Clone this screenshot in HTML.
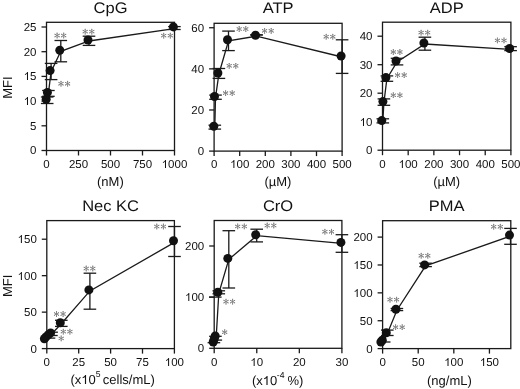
<!DOCTYPE html>
<html><head><meta charset="utf-8"><style>
html,body{margin:0;padding:0;background:#fff;}
body{width:520px;height:389px;overflow:hidden;}
svg{display:block;}
text{font-family:"Liberation Sans", sans-serif;fill:#111;text-rendering:geometricPrecision;}
svg{filter:grayscale(1);}
</style></head><body>
<svg width="520" height="389" viewBox="0 0 520 389">
<rect x="46.50" y="22.30" width="128.00" height="128.20" fill="none" stroke="#1a1a1a" stroke-width="1.3"/>
<line x1="41.50" y1="150.50" x2="46.50" y2="150.50" stroke="#1a1a1a" stroke-width="1.3"/>
<text x="36.50" y="154.40" font-size="11.5" text-anchor="end" >0</text>
<line x1="41.50" y1="125.80" x2="46.50" y2="125.80" stroke="#1a1a1a" stroke-width="1.3"/>
<text x="36.50" y="129.70" font-size="11.5" text-anchor="end" >5</text>
<line x1="41.50" y1="101.10" x2="46.50" y2="101.10" stroke="#1a1a1a" stroke-width="1.3"/>
<text x="23.71" y="105.00" font-size="11.5" > 0</text>
<path transform="translate(23.708,105.000) scale(0.005615,-0.005615)" d="M763 0L583 0L583 1098Q518 1039 412 980Q306 920 222 890L222 1057Q373 1125 486 1221Q599 1318 646 1409L763 1409Z" fill="#111"/>
<line x1="41.50" y1="76.40" x2="46.50" y2="76.40" stroke="#1a1a1a" stroke-width="1.3"/>
<text x="23.71" y="80.00" font-size="11.5" > 5</text>
<path transform="translate(23.708,80.000) scale(0.005615,-0.005615)" d="M763 0L583 0L583 1098Q518 1039 412 980Q306 920 222 890L222 1057Q373 1125 486 1221Q599 1318 646 1409L763 1409Z" fill="#111"/>
<line x1="41.50" y1="51.70" x2="46.50" y2="51.70" stroke="#1a1a1a" stroke-width="1.3"/>
<text x="36.50" y="55.60" font-size="11.5" text-anchor="end" >20</text>
<line x1="41.50" y1="27.00" x2="46.50" y2="27.00" stroke="#1a1a1a" stroke-width="1.3"/>
<text x="36.50" y="30.90" font-size="11.5" text-anchor="end" >25</text>
<line x1="46.50" y1="150.50" x2="46.50" y2="155.50" stroke="#1a1a1a" stroke-width="1.3"/>
<text x="46.50" y="167.80" font-size="11.5" text-anchor="middle" >0</text>
<line x1="78.50" y1="150.50" x2="78.50" y2="155.50" stroke="#1a1a1a" stroke-width="1.3"/>
<text x="78.50" y="167.80" font-size="11.5" text-anchor="middle" >250</text>
<line x1="110.50" y1="150.50" x2="110.50" y2="155.50" stroke="#1a1a1a" stroke-width="1.3"/>
<text x="110.50" y="167.80" font-size="11.5" text-anchor="middle" >500</text>
<line x1="142.50" y1="150.50" x2="142.50" y2="155.50" stroke="#1a1a1a" stroke-width="1.3"/>
<text x="142.50" y="167.80" font-size="11.5" text-anchor="middle" >750</text>
<line x1="174.50" y1="150.50" x2="174.50" y2="155.50" stroke="#1a1a1a" stroke-width="1.3"/>
<text x="161.71" y="168.00" font-size="11.5" > 000</text>
<path transform="translate(161.708,168.000) scale(0.005615,-0.005615)" d="M763 0L583 0L583 1098Q518 1039 412 980Q306 920 222 890L222 1057Q373 1125 486 1221Q599 1318 646 1409L763 1409Z" fill="#111"/>
<text transform="translate(110.50,13.00) scale(1.078,1)" font-size="15.3" text-anchor="middle">CpG</text>
<text x="110.4" y="186.2" font-size="13" text-anchor="middle">(nM)</text>
<line x1="174.40" y1="26.60" x2="174.40" y2="29.50" stroke="#1a1a1a" stroke-width="1.3"/>
<line x1="168.10" y1="26.60" x2="180.70" y2="26.60" stroke="#1a1a1a" stroke-width="1.3"/>
<line x1="168.10" y1="29.50" x2="180.70" y2="29.50" stroke="#1a1a1a" stroke-width="1.3"/>
<line x1="89.00" y1="36.20" x2="89.00" y2="45.40" stroke="#1a1a1a" stroke-width="1.3"/>
<line x1="82.70" y1="36.20" x2="95.30" y2="36.20" stroke="#1a1a1a" stroke-width="1.3"/>
<line x1="82.70" y1="45.40" x2="95.30" y2="45.40" stroke="#1a1a1a" stroke-width="1.3"/>
<line x1="60.80" y1="40.50" x2="60.80" y2="61.80" stroke="#1a1a1a" stroke-width="1.3"/>
<line x1="54.50" y1="40.50" x2="67.10" y2="40.50" stroke="#1a1a1a" stroke-width="1.3"/>
<line x1="54.50" y1="61.80" x2="67.10" y2="61.80" stroke="#1a1a1a" stroke-width="1.3"/>
<line x1="51.10" y1="63.40" x2="51.10" y2="79.60" stroke="#1a1a1a" stroke-width="1.3"/>
<line x1="44.80" y1="63.40" x2="57.40" y2="63.40" stroke="#1a1a1a" stroke-width="1.3"/>
<line x1="44.80" y1="79.60" x2="57.40" y2="79.60" stroke="#1a1a1a" stroke-width="1.3"/>
<line x1="48.40" y1="90.50" x2="48.40" y2="96.30" stroke="#1a1a1a" stroke-width="1.3"/>
<line x1="42.10" y1="90.50" x2="54.70" y2="90.50" stroke="#1a1a1a" stroke-width="1.3"/>
<line x1="42.10" y1="96.30" x2="54.70" y2="96.30" stroke="#1a1a1a" stroke-width="1.3"/>
<line x1="47.20" y1="97.00" x2="47.20" y2="103.50" stroke="#1a1a1a" stroke-width="1.3"/>
<line x1="40.90" y1="97.00" x2="53.50" y2="97.00" stroke="#1a1a1a" stroke-width="1.3"/>
<line x1="40.90" y1="103.50" x2="53.50" y2="103.50" stroke="#1a1a1a" stroke-width="1.3"/>
<polyline points="174.40,28.60 89.00,41.00 60.80,51.30 51.10,71.60 48.40,93.40 47.20,100.30" fill="none" stroke="#1a1a1a" stroke-width="1.3"/>
<circle cx="173.40" cy="26.90" r="4.5" fill="#111"/>
<circle cx="88.00" cy="40.00" r="4.5" fill="#111"/>
<circle cx="59.80" cy="50.30" r="4.5" fill="#111"/>
<circle cx="50.10" cy="70.60" r="4.5" fill="#111"/>
<circle cx="47.40" cy="92.40" r="4.5" fill="#111"/>
<circle cx="46.20" cy="99.30" r="4.5" fill="#111"/>
<path d="M163.70 33.25L163.70 37.95M161.66 34.43L165.74 36.77M165.74 34.43L161.66 36.77" stroke="#7d7d7d" stroke-width="0.9" stroke-linecap="round" fill="none"/>
<circle cx="163.70" cy="33.25" r="0.55" fill="#7d7d7d"/>
<circle cx="163.70" cy="37.95" r="0.55" fill="#7d7d7d"/>
<circle cx="161.66" cy="34.43" r="0.55" fill="#7d7d7d"/>
<circle cx="165.74" cy="36.77" r="0.55" fill="#7d7d7d"/>
<circle cx="165.74" cy="34.43" r="0.55" fill="#7d7d7d"/>
<circle cx="161.66" cy="36.77" r="0.55" fill="#7d7d7d"/>
<path d="M170.30 33.25L170.30 37.95M168.26 34.43L172.34 36.77M172.34 34.43L168.26 36.77" stroke="#7d7d7d" stroke-width="0.9" stroke-linecap="round" fill="none"/>
<circle cx="170.30" cy="33.25" r="0.55" fill="#7d7d7d"/>
<circle cx="170.30" cy="37.95" r="0.55" fill="#7d7d7d"/>
<circle cx="168.26" cy="34.43" r="0.55" fill="#7d7d7d"/>
<circle cx="172.34" cy="36.77" r="0.55" fill="#7d7d7d"/>
<circle cx="172.34" cy="34.43" r="0.55" fill="#7d7d7d"/>
<circle cx="168.26" cy="36.77" r="0.55" fill="#7d7d7d"/>
<path d="M85.20 29.25L85.20 33.95M83.16 30.43L87.24 32.77M87.24 30.43L83.16 32.77" stroke="#7d7d7d" stroke-width="0.9" stroke-linecap="round" fill="none"/>
<circle cx="85.20" cy="29.25" r="0.55" fill="#7d7d7d"/>
<circle cx="85.20" cy="33.95" r="0.55" fill="#7d7d7d"/>
<circle cx="83.16" cy="30.43" r="0.55" fill="#7d7d7d"/>
<circle cx="87.24" cy="32.77" r="0.55" fill="#7d7d7d"/>
<circle cx="87.24" cy="30.43" r="0.55" fill="#7d7d7d"/>
<circle cx="83.16" cy="32.77" r="0.55" fill="#7d7d7d"/>
<path d="M91.80 29.25L91.80 33.95M89.76 30.43L93.84 32.77M93.84 30.43L89.76 32.77" stroke="#7d7d7d" stroke-width="0.9" stroke-linecap="round" fill="none"/>
<circle cx="91.80" cy="29.25" r="0.55" fill="#7d7d7d"/>
<circle cx="91.80" cy="33.95" r="0.55" fill="#7d7d7d"/>
<circle cx="89.76" cy="30.43" r="0.55" fill="#7d7d7d"/>
<circle cx="93.84" cy="32.77" r="0.55" fill="#7d7d7d"/>
<circle cx="93.84" cy="30.43" r="0.55" fill="#7d7d7d"/>
<circle cx="89.76" cy="32.77" r="0.55" fill="#7d7d7d"/>
<path d="M57.10 33.15L57.10 37.85M55.06 34.33L59.14 36.67M59.14 34.33L55.06 36.67" stroke="#7d7d7d" stroke-width="0.9" stroke-linecap="round" fill="none"/>
<circle cx="57.10" cy="33.15" r="0.55" fill="#7d7d7d"/>
<circle cx="57.10" cy="37.85" r="0.55" fill="#7d7d7d"/>
<circle cx="55.06" cy="34.33" r="0.55" fill="#7d7d7d"/>
<circle cx="59.14" cy="36.67" r="0.55" fill="#7d7d7d"/>
<circle cx="59.14" cy="34.33" r="0.55" fill="#7d7d7d"/>
<circle cx="55.06" cy="36.67" r="0.55" fill="#7d7d7d"/>
<path d="M63.70 33.15L63.70 37.85M61.66 34.33L65.74 36.67M65.74 34.33L61.66 36.67" stroke="#7d7d7d" stroke-width="0.9" stroke-linecap="round" fill="none"/>
<circle cx="63.70" cy="33.15" r="0.55" fill="#7d7d7d"/>
<circle cx="63.70" cy="37.85" r="0.55" fill="#7d7d7d"/>
<circle cx="61.66" cy="34.33" r="0.55" fill="#7d7d7d"/>
<circle cx="65.74" cy="36.67" r="0.55" fill="#7d7d7d"/>
<circle cx="65.74" cy="34.33" r="0.55" fill="#7d7d7d"/>
<circle cx="61.66" cy="36.67" r="0.55" fill="#7d7d7d"/>
<path d="M61.00 81.35L61.00 86.05M58.96 82.53L63.04 84.88M63.04 82.53L58.96 84.88" stroke="#7d7d7d" stroke-width="0.9" stroke-linecap="round" fill="none"/>
<circle cx="61.00" cy="81.35" r="0.55" fill="#7d7d7d"/>
<circle cx="61.00" cy="86.05" r="0.55" fill="#7d7d7d"/>
<circle cx="58.96" cy="82.53" r="0.55" fill="#7d7d7d"/>
<circle cx="63.04" cy="84.88" r="0.55" fill="#7d7d7d"/>
<circle cx="63.04" cy="82.53" r="0.55" fill="#7d7d7d"/>
<circle cx="58.96" cy="84.88" r="0.55" fill="#7d7d7d"/>
<path d="M67.60 81.35L67.60 86.05M65.56 82.53L69.64 84.88M69.64 82.53L65.56 84.88" stroke="#7d7d7d" stroke-width="0.9" stroke-linecap="round" fill="none"/>
<circle cx="67.60" cy="81.35" r="0.55" fill="#7d7d7d"/>
<circle cx="67.60" cy="86.05" r="0.55" fill="#7d7d7d"/>
<circle cx="65.56" cy="82.53" r="0.55" fill="#7d7d7d"/>
<circle cx="69.64" cy="84.88" r="0.55" fill="#7d7d7d"/>
<circle cx="69.64" cy="82.53" r="0.55" fill="#7d7d7d"/>
<circle cx="65.56" cy="84.88" r="0.55" fill="#7d7d7d"/>
<rect x="214.10" y="23.30" width="128.00" height="127.80" fill="none" stroke="#1a1a1a" stroke-width="1.3"/>
<line x1="209.10" y1="151.10" x2="214.10" y2="151.10" stroke="#1a1a1a" stroke-width="1.3"/>
<text x="204.10" y="155.00" font-size="11.5" text-anchor="end" >0</text>
<line x1="209.10" y1="109.98" x2="214.10" y2="109.98" stroke="#1a1a1a" stroke-width="1.3"/>
<text x="204.10" y="113.88" font-size="11.5" text-anchor="end" >20</text>
<line x1="209.10" y1="68.86" x2="214.10" y2="68.86" stroke="#1a1a1a" stroke-width="1.3"/>
<text x="204.10" y="72.76" font-size="11.5" text-anchor="end" >40</text>
<line x1="209.10" y1="27.74" x2="214.10" y2="27.74" stroke="#1a1a1a" stroke-width="1.3"/>
<text x="204.10" y="31.64" font-size="11.5" text-anchor="end" >60</text>
<line x1="214.10" y1="151.10" x2="214.10" y2="156.10" stroke="#1a1a1a" stroke-width="1.3"/>
<text x="214.10" y="168.40" font-size="11.5" text-anchor="middle" >0</text>
<line x1="239.70" y1="151.10" x2="239.70" y2="156.10" stroke="#1a1a1a" stroke-width="1.3"/>
<text x="230.11" y="168.00" font-size="11.5" > 00</text>
<path transform="translate(230.106,168.000) scale(0.005615,-0.005615)" d="M763 0L583 0L583 1098Q518 1039 412 980Q306 920 222 890L222 1057Q373 1125 486 1221Q599 1318 646 1409L763 1409Z" fill="#111"/>
<line x1="265.30" y1="151.10" x2="265.30" y2="156.10" stroke="#1a1a1a" stroke-width="1.3"/>
<text x="265.30" y="168.40" font-size="11.5" text-anchor="middle" >200</text>
<line x1="290.90" y1="151.10" x2="290.90" y2="156.10" stroke="#1a1a1a" stroke-width="1.3"/>
<text x="290.90" y="168.40" font-size="11.5" text-anchor="middle" >300</text>
<line x1="316.50" y1="151.10" x2="316.50" y2="156.10" stroke="#1a1a1a" stroke-width="1.3"/>
<text x="316.50" y="168.40" font-size="11.5" text-anchor="middle" >400</text>
<line x1="342.10" y1="151.10" x2="342.10" y2="156.10" stroke="#1a1a1a" stroke-width="1.3"/>
<text x="342.10" y="168.40" font-size="11.5" text-anchor="middle" >500</text>
<text transform="translate(278.10,13.00) scale(1.078,1)" font-size="15.3" text-anchor="middle">ATP</text>
<text x="277.9" y="186.3" font-size="13" text-anchor="middle">(µM)</text>
<line x1="342.10" y1="39.80" x2="342.10" y2="73.40" stroke="#1a1a1a" stroke-width="1.3"/>
<line x1="335.80" y1="39.80" x2="348.40" y2="39.80" stroke="#1a1a1a" stroke-width="1.3"/>
<line x1="335.80" y1="73.40" x2="348.40" y2="73.40" stroke="#1a1a1a" stroke-width="1.3"/>
<line x1="256.50" y1="34.90" x2="256.50" y2="34.90" stroke="#1a1a1a" stroke-width="1.3"/>
<line x1="250.20" y1="34.90" x2="262.80" y2="34.90" stroke="#1a1a1a" stroke-width="1.3"/>
<line x1="250.20" y1="34.90" x2="262.80" y2="34.90" stroke="#1a1a1a" stroke-width="1.3"/>
<line x1="228.50" y1="31.10" x2="228.50" y2="50.60" stroke="#1a1a1a" stroke-width="1.3"/>
<line x1="222.20" y1="31.10" x2="234.80" y2="31.10" stroke="#1a1a1a" stroke-width="1.3"/>
<line x1="222.20" y1="50.60" x2="234.80" y2="50.60" stroke="#1a1a1a" stroke-width="1.3"/>
<line x1="218.90" y1="68.50" x2="218.90" y2="78.40" stroke="#1a1a1a" stroke-width="1.3"/>
<line x1="212.60" y1="68.50" x2="225.20" y2="68.50" stroke="#1a1a1a" stroke-width="1.3"/>
<line x1="212.60" y1="78.40" x2="225.20" y2="78.40" stroke="#1a1a1a" stroke-width="1.3"/>
<line x1="215.50" y1="95.10" x2="215.50" y2="99.30" stroke="#1a1a1a" stroke-width="1.3"/>
<line x1="209.20" y1="95.10" x2="221.80" y2="95.10" stroke="#1a1a1a" stroke-width="1.3"/>
<line x1="209.20" y1="99.30" x2="221.80" y2="99.30" stroke="#1a1a1a" stroke-width="1.3"/>
<line x1="214.80" y1="125.20" x2="214.80" y2="129.10" stroke="#1a1a1a" stroke-width="1.3"/>
<line x1="208.50" y1="125.20" x2="221.10" y2="125.20" stroke="#1a1a1a" stroke-width="1.3"/>
<line x1="208.50" y1="129.10" x2="221.10" y2="129.10" stroke="#1a1a1a" stroke-width="1.3"/>
<polyline points="342.10,57.00 256.50,36.20 228.50,40.80 218.90,74.00 215.50,97.50 214.80,127.30" fill="none" stroke="#1a1a1a" stroke-width="1.3"/>
<circle cx="341.10" cy="56.00" r="4.5" fill="#111"/>
<circle cx="255.50" cy="35.20" r="4.5" fill="#111"/>
<circle cx="227.50" cy="39.80" r="4.5" fill="#111"/>
<circle cx="217.90" cy="73.00" r="4.5" fill="#111"/>
<circle cx="214.50" cy="96.50" r="4.5" fill="#111"/>
<circle cx="213.80" cy="126.30" r="4.5" fill="#111"/>
<path d="M326.20 34.35L326.20 39.05M324.16 35.53L328.24 37.88M328.24 35.53L324.16 37.88" stroke="#7d7d7d" stroke-width="0.9" stroke-linecap="round" fill="none"/>
<circle cx="326.20" cy="34.35" r="0.55" fill="#7d7d7d"/>
<circle cx="326.20" cy="39.05" r="0.55" fill="#7d7d7d"/>
<circle cx="324.16" cy="35.53" r="0.55" fill="#7d7d7d"/>
<circle cx="328.24" cy="37.88" r="0.55" fill="#7d7d7d"/>
<circle cx="328.24" cy="35.53" r="0.55" fill="#7d7d7d"/>
<circle cx="324.16" cy="37.88" r="0.55" fill="#7d7d7d"/>
<path d="M332.80 34.35L332.80 39.05M330.76 35.53L334.84 37.88M334.84 35.53L330.76 37.88" stroke="#7d7d7d" stroke-width="0.9" stroke-linecap="round" fill="none"/>
<circle cx="332.80" cy="34.35" r="0.55" fill="#7d7d7d"/>
<circle cx="332.80" cy="39.05" r="0.55" fill="#7d7d7d"/>
<circle cx="330.76" cy="35.53" r="0.55" fill="#7d7d7d"/>
<circle cx="334.84" cy="37.88" r="0.55" fill="#7d7d7d"/>
<circle cx="334.84" cy="35.53" r="0.55" fill="#7d7d7d"/>
<circle cx="330.76" cy="37.88" r="0.55" fill="#7d7d7d"/>
<path d="M264.60 28.45L264.60 33.15M262.56 29.62L266.64 31.98M266.64 29.62L262.56 31.98" stroke="#7d7d7d" stroke-width="0.9" stroke-linecap="round" fill="none"/>
<circle cx="264.60" cy="28.45" r="0.55" fill="#7d7d7d"/>
<circle cx="264.60" cy="33.15" r="0.55" fill="#7d7d7d"/>
<circle cx="262.56" cy="29.62" r="0.55" fill="#7d7d7d"/>
<circle cx="266.64" cy="31.98" r="0.55" fill="#7d7d7d"/>
<circle cx="266.64" cy="29.62" r="0.55" fill="#7d7d7d"/>
<circle cx="262.56" cy="31.98" r="0.55" fill="#7d7d7d"/>
<path d="M271.20 28.45L271.20 33.15M269.16 29.62L273.24 31.98M273.24 29.62L269.16 31.98" stroke="#7d7d7d" stroke-width="0.9" stroke-linecap="round" fill="none"/>
<circle cx="271.20" cy="28.45" r="0.55" fill="#7d7d7d"/>
<circle cx="271.20" cy="33.15" r="0.55" fill="#7d7d7d"/>
<circle cx="269.16" cy="29.62" r="0.55" fill="#7d7d7d"/>
<circle cx="273.24" cy="31.98" r="0.55" fill="#7d7d7d"/>
<circle cx="273.24" cy="29.62" r="0.55" fill="#7d7d7d"/>
<circle cx="269.16" cy="31.98" r="0.55" fill="#7d7d7d"/>
<path d="M239.20 26.65L239.20 31.35M237.16 27.82L241.24 30.18M241.24 27.82L237.16 30.18" stroke="#7d7d7d" stroke-width="0.9" stroke-linecap="round" fill="none"/>
<circle cx="239.20" cy="26.65" r="0.55" fill="#7d7d7d"/>
<circle cx="239.20" cy="31.35" r="0.55" fill="#7d7d7d"/>
<circle cx="237.16" cy="27.82" r="0.55" fill="#7d7d7d"/>
<circle cx="241.24" cy="30.18" r="0.55" fill="#7d7d7d"/>
<circle cx="241.24" cy="27.82" r="0.55" fill="#7d7d7d"/>
<circle cx="237.16" cy="30.18" r="0.55" fill="#7d7d7d"/>
<path d="M245.80 26.65L245.80 31.35M243.76 27.82L247.84 30.18M247.84 27.82L243.76 30.18" stroke="#7d7d7d" stroke-width="0.9" stroke-linecap="round" fill="none"/>
<circle cx="245.80" cy="26.65" r="0.55" fill="#7d7d7d"/>
<circle cx="245.80" cy="31.35" r="0.55" fill="#7d7d7d"/>
<circle cx="243.76" cy="27.82" r="0.55" fill="#7d7d7d"/>
<circle cx="247.84" cy="30.18" r="0.55" fill="#7d7d7d"/>
<circle cx="247.84" cy="27.82" r="0.55" fill="#7d7d7d"/>
<circle cx="243.76" cy="30.18" r="0.55" fill="#7d7d7d"/>
<path d="M229.20 63.45L229.20 68.15M227.16 64.62L231.24 66.97M231.24 64.62L227.16 66.97" stroke="#7d7d7d" stroke-width="0.9" stroke-linecap="round" fill="none"/>
<circle cx="229.20" cy="63.45" r="0.55" fill="#7d7d7d"/>
<circle cx="229.20" cy="68.15" r="0.55" fill="#7d7d7d"/>
<circle cx="227.16" cy="64.62" r="0.55" fill="#7d7d7d"/>
<circle cx="231.24" cy="66.97" r="0.55" fill="#7d7d7d"/>
<circle cx="231.24" cy="64.62" r="0.55" fill="#7d7d7d"/>
<circle cx="227.16" cy="66.97" r="0.55" fill="#7d7d7d"/>
<path d="M235.80 63.45L235.80 68.15M233.76 64.62L237.84 66.97M237.84 64.62L233.76 66.97" stroke="#7d7d7d" stroke-width="0.9" stroke-linecap="round" fill="none"/>
<circle cx="235.80" cy="63.45" r="0.55" fill="#7d7d7d"/>
<circle cx="235.80" cy="68.15" r="0.55" fill="#7d7d7d"/>
<circle cx="233.76" cy="64.62" r="0.55" fill="#7d7d7d"/>
<circle cx="237.84" cy="66.97" r="0.55" fill="#7d7d7d"/>
<circle cx="237.84" cy="64.62" r="0.55" fill="#7d7d7d"/>
<circle cx="233.76" cy="66.97" r="0.55" fill="#7d7d7d"/>
<path d="M225.60 90.75L225.60 95.45M223.56 91.92L227.64 94.27M227.64 91.92L223.56 94.27" stroke="#7d7d7d" stroke-width="0.9" stroke-linecap="round" fill="none"/>
<circle cx="225.60" cy="90.75" r="0.55" fill="#7d7d7d"/>
<circle cx="225.60" cy="95.45" r="0.55" fill="#7d7d7d"/>
<circle cx="223.56" cy="91.92" r="0.55" fill="#7d7d7d"/>
<circle cx="227.64" cy="94.27" r="0.55" fill="#7d7d7d"/>
<circle cx="227.64" cy="91.92" r="0.55" fill="#7d7d7d"/>
<circle cx="223.56" cy="94.27" r="0.55" fill="#7d7d7d"/>
<path d="M232.20 90.75L232.20 95.45M230.16 91.92L234.24 94.27M234.24 91.92L230.16 94.27" stroke="#7d7d7d" stroke-width="0.9" stroke-linecap="round" fill="none"/>
<circle cx="232.20" cy="90.75" r="0.55" fill="#7d7d7d"/>
<circle cx="232.20" cy="95.45" r="0.55" fill="#7d7d7d"/>
<circle cx="230.16" cy="91.92" r="0.55" fill="#7d7d7d"/>
<circle cx="234.24" cy="94.27" r="0.55" fill="#7d7d7d"/>
<circle cx="234.24" cy="91.92" r="0.55" fill="#7d7d7d"/>
<circle cx="230.16" cy="94.27" r="0.55" fill="#7d7d7d"/>
<rect x="382.50" y="22.20" width="128.40" height="128.00" fill="none" stroke="#1a1a1a" stroke-width="1.3"/>
<line x1="377.50" y1="150.20" x2="382.50" y2="150.20" stroke="#1a1a1a" stroke-width="1.3"/>
<text x="372.50" y="154.10" font-size="11.5" text-anchor="end" >0</text>
<line x1="377.50" y1="121.70" x2="382.50" y2="121.70" stroke="#1a1a1a" stroke-width="1.3"/>
<text x="359.71" y="126.00" font-size="11.5" > 0</text>
<path transform="translate(359.708,126.000) scale(0.005615,-0.005615)" d="M763 0L583 0L583 1098Q518 1039 412 980Q306 920 222 890L222 1057Q373 1125 486 1221Q599 1318 646 1409L763 1409Z" fill="#111"/>
<line x1="377.50" y1="93.20" x2="382.50" y2="93.20" stroke="#1a1a1a" stroke-width="1.3"/>
<text x="372.50" y="97.10" font-size="11.5" text-anchor="end" >20</text>
<line x1="377.50" y1="64.70" x2="382.50" y2="64.70" stroke="#1a1a1a" stroke-width="1.3"/>
<text x="372.50" y="68.60" font-size="11.5" text-anchor="end" >30</text>
<line x1="377.50" y1="36.20" x2="382.50" y2="36.20" stroke="#1a1a1a" stroke-width="1.3"/>
<text x="372.50" y="40.10" font-size="11.5" text-anchor="end" >40</text>
<line x1="382.50" y1="150.20" x2="382.50" y2="155.20" stroke="#1a1a1a" stroke-width="1.3"/>
<text x="382.50" y="167.50" font-size="11.5" text-anchor="middle" >0</text>
<line x1="408.18" y1="150.20" x2="408.18" y2="155.20" stroke="#1a1a1a" stroke-width="1.3"/>
<text x="398.59" y="168.00" font-size="11.5" > 00</text>
<path transform="translate(398.586,168.000) scale(0.005615,-0.005615)" d="M763 0L583 0L583 1098Q518 1039 412 980Q306 920 222 890L222 1057Q373 1125 486 1221Q599 1318 646 1409L763 1409Z" fill="#111"/>
<line x1="433.86" y1="150.20" x2="433.86" y2="155.20" stroke="#1a1a1a" stroke-width="1.3"/>
<text x="433.86" y="167.50" font-size="11.5" text-anchor="middle" >200</text>
<line x1="459.54" y1="150.20" x2="459.54" y2="155.20" stroke="#1a1a1a" stroke-width="1.3"/>
<text x="459.54" y="167.50" font-size="11.5" text-anchor="middle" >300</text>
<line x1="485.22" y1="150.20" x2="485.22" y2="155.20" stroke="#1a1a1a" stroke-width="1.3"/>
<text x="485.22" y="167.50" font-size="11.5" text-anchor="middle" >400</text>
<line x1="510.90" y1="150.20" x2="510.90" y2="155.20" stroke="#1a1a1a" stroke-width="1.3"/>
<text x="510.90" y="167.50" font-size="11.5" text-anchor="middle" >500</text>
<text transform="translate(446.70,13.00) scale(1.078,1)" font-size="15.3" text-anchor="middle">ADP</text>
<text x="446.7" y="186.3" font-size="13" text-anchor="middle">(µM)</text>
<line x1="510.60" y1="46.70" x2="510.60" y2="50.60" stroke="#1a1a1a" stroke-width="1.3"/>
<line x1="504.30" y1="46.70" x2="516.90" y2="46.70" stroke="#1a1a1a" stroke-width="1.3"/>
<line x1="504.30" y1="50.60" x2="516.90" y2="50.60" stroke="#1a1a1a" stroke-width="1.3"/>
<line x1="424.90" y1="37.20" x2="424.90" y2="50.20" stroke="#1a1a1a" stroke-width="1.3"/>
<line x1="418.60" y1="37.20" x2="431.20" y2="37.20" stroke="#1a1a1a" stroke-width="1.3"/>
<line x1="418.60" y1="50.20" x2="431.20" y2="50.20" stroke="#1a1a1a" stroke-width="1.3"/>
<line x1="397.00" y1="58.30" x2="397.00" y2="64.90" stroke="#1a1a1a" stroke-width="1.3"/>
<line x1="390.70" y1="58.30" x2="403.30" y2="58.30" stroke="#1a1a1a" stroke-width="1.3"/>
<line x1="390.70" y1="64.90" x2="403.30" y2="64.90" stroke="#1a1a1a" stroke-width="1.3"/>
<line x1="386.90" y1="75.90" x2="386.90" y2="81.30" stroke="#1a1a1a" stroke-width="1.3"/>
<line x1="380.60" y1="75.90" x2="393.20" y2="75.90" stroke="#1a1a1a" stroke-width="1.3"/>
<line x1="380.60" y1="81.30" x2="393.20" y2="81.30" stroke="#1a1a1a" stroke-width="1.3"/>
<line x1="383.90" y1="98.90" x2="383.90" y2="105.30" stroke="#1a1a1a" stroke-width="1.3"/>
<line x1="377.60" y1="98.90" x2="390.20" y2="98.90" stroke="#1a1a1a" stroke-width="1.3"/>
<line x1="377.60" y1="105.30" x2="390.20" y2="105.30" stroke="#1a1a1a" stroke-width="1.3"/>
<line x1="382.80" y1="118.80" x2="382.80" y2="122.90" stroke="#1a1a1a" stroke-width="1.3"/>
<line x1="376.50" y1="118.80" x2="389.10" y2="118.80" stroke="#1a1a1a" stroke-width="1.3"/>
<line x1="376.50" y1="122.90" x2="389.10" y2="122.90" stroke="#1a1a1a" stroke-width="1.3"/>
<polyline points="510.60,49.50 424.90,44.00 397.00,62.00 386.90,78.60 383.90,102.60 382.80,121.60" fill="none" stroke="#1a1a1a" stroke-width="1.3"/>
<circle cx="509.60" cy="48.50" r="4.5" fill="#111"/>
<circle cx="423.90" cy="43.00" r="4.5" fill="#111"/>
<circle cx="396.00" cy="61.00" r="4.5" fill="#111"/>
<circle cx="385.90" cy="77.60" r="4.5" fill="#111"/>
<circle cx="382.90" cy="101.60" r="4.5" fill="#111"/>
<circle cx="381.80" cy="120.60" r="4.5" fill="#111"/>
<path d="M497.40 38.05L497.40 42.75M495.36 39.23L499.44 41.57M499.44 39.23L495.36 41.57" stroke="#7d7d7d" stroke-width="0.9" stroke-linecap="round" fill="none"/>
<circle cx="497.40" cy="38.05" r="0.55" fill="#7d7d7d"/>
<circle cx="497.40" cy="42.75" r="0.55" fill="#7d7d7d"/>
<circle cx="495.36" cy="39.23" r="0.55" fill="#7d7d7d"/>
<circle cx="499.44" cy="41.57" r="0.55" fill="#7d7d7d"/>
<circle cx="499.44" cy="39.23" r="0.55" fill="#7d7d7d"/>
<circle cx="495.36" cy="41.57" r="0.55" fill="#7d7d7d"/>
<path d="M504.00 38.05L504.00 42.75M501.96 39.23L506.04 41.57M506.04 39.23L501.96 41.57" stroke="#7d7d7d" stroke-width="0.9" stroke-linecap="round" fill="none"/>
<circle cx="504.00" cy="38.05" r="0.55" fill="#7d7d7d"/>
<circle cx="504.00" cy="42.75" r="0.55" fill="#7d7d7d"/>
<circle cx="501.96" cy="39.23" r="0.55" fill="#7d7d7d"/>
<circle cx="506.04" cy="41.57" r="0.55" fill="#7d7d7d"/>
<circle cx="506.04" cy="39.23" r="0.55" fill="#7d7d7d"/>
<circle cx="501.96" cy="41.57" r="0.55" fill="#7d7d7d"/>
<path d="M421.10 30.25L421.10 34.95M419.06 31.43L423.14 33.77M423.14 31.43L419.06 33.77" stroke="#7d7d7d" stroke-width="0.9" stroke-linecap="round" fill="none"/>
<circle cx="421.10" cy="30.25" r="0.55" fill="#7d7d7d"/>
<circle cx="421.10" cy="34.95" r="0.55" fill="#7d7d7d"/>
<circle cx="419.06" cy="31.43" r="0.55" fill="#7d7d7d"/>
<circle cx="423.14" cy="33.77" r="0.55" fill="#7d7d7d"/>
<circle cx="423.14" cy="31.43" r="0.55" fill="#7d7d7d"/>
<circle cx="419.06" cy="33.77" r="0.55" fill="#7d7d7d"/>
<path d="M427.70 30.25L427.70 34.95M425.66 31.43L429.74 33.77M429.74 31.43L425.66 33.77" stroke="#7d7d7d" stroke-width="0.9" stroke-linecap="round" fill="none"/>
<circle cx="427.70" cy="30.25" r="0.55" fill="#7d7d7d"/>
<circle cx="427.70" cy="34.95" r="0.55" fill="#7d7d7d"/>
<circle cx="425.66" cy="31.43" r="0.55" fill="#7d7d7d"/>
<circle cx="429.74" cy="33.77" r="0.55" fill="#7d7d7d"/>
<circle cx="429.74" cy="31.43" r="0.55" fill="#7d7d7d"/>
<circle cx="425.66" cy="33.77" r="0.55" fill="#7d7d7d"/>
<path d="M393.30 49.65L393.30 54.35M391.26 50.83L395.34 53.17M395.34 50.83L391.26 53.17" stroke="#7d7d7d" stroke-width="0.9" stroke-linecap="round" fill="none"/>
<circle cx="393.30" cy="49.65" r="0.55" fill="#7d7d7d"/>
<circle cx="393.30" cy="54.35" r="0.55" fill="#7d7d7d"/>
<circle cx="391.26" cy="50.83" r="0.55" fill="#7d7d7d"/>
<circle cx="395.34" cy="53.17" r="0.55" fill="#7d7d7d"/>
<circle cx="395.34" cy="50.83" r="0.55" fill="#7d7d7d"/>
<circle cx="391.26" cy="53.17" r="0.55" fill="#7d7d7d"/>
<path d="M399.90 49.65L399.90 54.35M397.86 50.83L401.94 53.17M401.94 50.83L397.86 53.17" stroke="#7d7d7d" stroke-width="0.9" stroke-linecap="round" fill="none"/>
<circle cx="399.90" cy="49.65" r="0.55" fill="#7d7d7d"/>
<circle cx="399.90" cy="54.35" r="0.55" fill="#7d7d7d"/>
<circle cx="397.86" cy="50.83" r="0.55" fill="#7d7d7d"/>
<circle cx="401.94" cy="53.17" r="0.55" fill="#7d7d7d"/>
<circle cx="401.94" cy="50.83" r="0.55" fill="#7d7d7d"/>
<circle cx="397.86" cy="53.17" r="0.55" fill="#7d7d7d"/>
<path d="M397.60 72.75L397.60 77.45M395.56 73.92L399.64 76.27M399.64 73.92L395.56 76.27" stroke="#7d7d7d" stroke-width="0.9" stroke-linecap="round" fill="none"/>
<circle cx="397.60" cy="72.75" r="0.55" fill="#7d7d7d"/>
<circle cx="397.60" cy="77.45" r="0.55" fill="#7d7d7d"/>
<circle cx="395.56" cy="73.92" r="0.55" fill="#7d7d7d"/>
<circle cx="399.64" cy="76.27" r="0.55" fill="#7d7d7d"/>
<circle cx="399.64" cy="73.92" r="0.55" fill="#7d7d7d"/>
<circle cx="395.56" cy="76.27" r="0.55" fill="#7d7d7d"/>
<path d="M404.20 72.75L404.20 77.45M402.16 73.92L406.24 76.27M406.24 73.92L402.16 76.27" stroke="#7d7d7d" stroke-width="0.9" stroke-linecap="round" fill="none"/>
<circle cx="404.20" cy="72.75" r="0.55" fill="#7d7d7d"/>
<circle cx="404.20" cy="77.45" r="0.55" fill="#7d7d7d"/>
<circle cx="402.16" cy="73.92" r="0.55" fill="#7d7d7d"/>
<circle cx="406.24" cy="76.27" r="0.55" fill="#7d7d7d"/>
<circle cx="406.24" cy="73.92" r="0.55" fill="#7d7d7d"/>
<circle cx="402.16" cy="76.27" r="0.55" fill="#7d7d7d"/>
<path d="M393.30 92.85L393.30 97.55M391.26 94.03L395.34 96.38M395.34 94.03L391.26 96.38" stroke="#7d7d7d" stroke-width="0.9" stroke-linecap="round" fill="none"/>
<circle cx="393.30" cy="92.85" r="0.55" fill="#7d7d7d"/>
<circle cx="393.30" cy="97.55" r="0.55" fill="#7d7d7d"/>
<circle cx="391.26" cy="94.03" r="0.55" fill="#7d7d7d"/>
<circle cx="395.34" cy="96.38" r="0.55" fill="#7d7d7d"/>
<circle cx="395.34" cy="94.03" r="0.55" fill="#7d7d7d"/>
<circle cx="391.26" cy="96.38" r="0.55" fill="#7d7d7d"/>
<path d="M399.90 92.85L399.90 97.55M397.86 94.03L401.94 96.38M401.94 94.03L397.86 96.38" stroke="#7d7d7d" stroke-width="0.9" stroke-linecap="round" fill="none"/>
<circle cx="399.90" cy="92.85" r="0.55" fill="#7d7d7d"/>
<circle cx="399.90" cy="97.55" r="0.55" fill="#7d7d7d"/>
<circle cx="397.86" cy="94.03" r="0.55" fill="#7d7d7d"/>
<circle cx="401.94" cy="96.38" r="0.55" fill="#7d7d7d"/>
<circle cx="401.94" cy="94.03" r="0.55" fill="#7d7d7d"/>
<circle cx="397.86" cy="96.38" r="0.55" fill="#7d7d7d"/>
<rect x="46.80" y="220.60" width="127.60" height="128.00" fill="none" stroke="#1a1a1a" stroke-width="1.3"/>
<line x1="41.80" y1="348.60" x2="46.80" y2="348.60" stroke="#1a1a1a" stroke-width="1.3"/>
<text x="36.80" y="352.50" font-size="11.5" text-anchor="end" >0</text>
<line x1="41.80" y1="312.14" x2="46.80" y2="312.14" stroke="#1a1a1a" stroke-width="1.3"/>
<text x="36.80" y="316.04" font-size="11.5" text-anchor="end" >50</text>
<line x1="41.80" y1="275.67" x2="46.80" y2="275.67" stroke="#1a1a1a" stroke-width="1.3"/>
<text x="17.61" y="280.00" font-size="11.5" > 00</text>
<path transform="translate(17.613,280.000) scale(0.005615,-0.005615)" d="M763 0L583 0L583 1098Q518 1039 412 980Q306 920 222 890L222 1057Q373 1125 486 1221Q599 1318 646 1409L763 1409Z" fill="#111"/>
<line x1="41.80" y1="239.21" x2="46.80" y2="239.21" stroke="#1a1a1a" stroke-width="1.3"/>
<text x="17.61" y="243.00" font-size="11.5" > 50</text>
<path transform="translate(17.613,243.000) scale(0.005615,-0.005615)" d="M763 0L583 0L583 1098Q518 1039 412 980Q306 920 222 890L222 1057Q373 1125 486 1221Q599 1318 646 1409L763 1409Z" fill="#111"/>
<line x1="46.80" y1="348.60" x2="46.80" y2="353.60" stroke="#1a1a1a" stroke-width="1.3"/>
<text x="46.80" y="365.90" font-size="11.5" text-anchor="middle" >0</text>
<line x1="78.70" y1="348.60" x2="78.70" y2="353.60" stroke="#1a1a1a" stroke-width="1.3"/>
<text x="78.70" y="365.90" font-size="11.5" text-anchor="middle" >25</text>
<line x1="110.60" y1="348.60" x2="110.60" y2="353.60" stroke="#1a1a1a" stroke-width="1.3"/>
<text x="110.60" y="365.90" font-size="11.5" text-anchor="middle" >50</text>
<line x1="142.50" y1="348.60" x2="142.50" y2="353.60" stroke="#1a1a1a" stroke-width="1.3"/>
<text x="142.50" y="365.90" font-size="11.5" text-anchor="middle" >75</text>
<line x1="174.40" y1="348.60" x2="174.40" y2="353.60" stroke="#1a1a1a" stroke-width="1.3"/>
<text x="164.81" y="366.00" font-size="11.5" > 00</text>
<path transform="translate(164.806,366.000) scale(0.005615,-0.005615)" d="M763 0L583 0L583 1098Q518 1039 412 980Q306 920 222 890L222 1057Q373 1125 486 1221Q599 1318 646 1409L763 1409Z" fill="#111"/>
<text transform="translate(110.60,211.00) scale(1.078,1)" font-size="15.3" text-anchor="middle">Nec KC</text>
<text x="70.40" y="384.00" font-size="13" >(x 0</text>
<path transform="translate(81.229,384.000) scale(0.006348,-0.006348)" d="M763 0L583 0L583 1098Q518 1039 412 980Q306 920 222 890L222 1057Q373 1125 486 1221Q599 1318 646 1409L763 1409Z" fill="#111"/>
<text x="95.7" y="377.3" font-size="8.6">5</text>
<text x="102.8" y="384.2" font-size="13">cells/mL)</text>
<line x1="174.50" y1="226.50" x2="174.50" y2="256.50" stroke="#1a1a1a" stroke-width="1.3"/>
<line x1="168.20" y1="226.50" x2="180.80" y2="226.50" stroke="#1a1a1a" stroke-width="1.3"/>
<line x1="168.20" y1="256.50" x2="180.80" y2="256.50" stroke="#1a1a1a" stroke-width="1.3"/>
<line x1="89.90" y1="273.20" x2="89.90" y2="309.20" stroke="#1a1a1a" stroke-width="1.3"/>
<line x1="83.60" y1="273.20" x2="96.20" y2="273.20" stroke="#1a1a1a" stroke-width="1.3"/>
<line x1="83.60" y1="309.20" x2="96.20" y2="309.20" stroke="#1a1a1a" stroke-width="1.3"/>
<line x1="61.30" y1="320.30" x2="61.30" y2="326.40" stroke="#1a1a1a" stroke-width="1.3"/>
<line x1="55.00" y1="320.30" x2="67.60" y2="320.30" stroke="#1a1a1a" stroke-width="1.3"/>
<line x1="55.00" y1="326.40" x2="67.60" y2="326.40" stroke="#1a1a1a" stroke-width="1.3"/>
<line x1="45.30" y1="332.20" x2="57.90" y2="332.20" stroke="#1a1a1a" stroke-width="1.3"/>
<line x1="45.10" y1="335.50" x2="57.70" y2="335.50" stroke="#1a1a1a" stroke-width="1.3"/>
<line x1="42.70" y1="338.10" x2="55.30" y2="338.10" stroke="#1a1a1a" stroke-width="1.3"/>
<polyline points="174.50,242.40 89.90,290.90 61.30,323.70 51.60,333.90 49.20,335.90 47.00,337.90 45.40,339.80" fill="none" stroke="#1a1a1a" stroke-width="1.3"/>
<circle cx="173.50" cy="240.80" r="4.5" fill="#111"/>
<circle cx="88.90" cy="289.90" r="4.5" fill="#111"/>
<circle cx="60.30" cy="322.70" r="4.5" fill="#111"/>
<circle cx="50.60" cy="332.90" r="4.5" fill="#111"/>
<circle cx="48.20" cy="334.90" r="4.5" fill="#111"/>
<circle cx="46.00" cy="336.90" r="4.5" fill="#111"/>
<circle cx="44.40" cy="338.80" r="4.5" fill="#111"/>
<path d="M156.80 224.15L156.80 228.85M154.76 225.32L158.84 227.68M158.84 225.32L154.76 227.68" stroke="#7d7d7d" stroke-width="0.9" stroke-linecap="round" fill="none"/>
<circle cx="156.80" cy="224.15" r="0.55" fill="#7d7d7d"/>
<circle cx="156.80" cy="228.85" r="0.55" fill="#7d7d7d"/>
<circle cx="154.76" cy="225.32" r="0.55" fill="#7d7d7d"/>
<circle cx="158.84" cy="227.68" r="0.55" fill="#7d7d7d"/>
<circle cx="158.84" cy="225.32" r="0.55" fill="#7d7d7d"/>
<circle cx="154.76" cy="227.68" r="0.55" fill="#7d7d7d"/>
<path d="M163.40 224.15L163.40 228.85M161.36 225.32L165.44 227.68M165.44 225.32L161.36 227.68" stroke="#7d7d7d" stroke-width="0.9" stroke-linecap="round" fill="none"/>
<circle cx="163.40" cy="224.15" r="0.55" fill="#7d7d7d"/>
<circle cx="163.40" cy="228.85" r="0.55" fill="#7d7d7d"/>
<circle cx="161.36" cy="225.32" r="0.55" fill="#7d7d7d"/>
<circle cx="165.44" cy="227.68" r="0.55" fill="#7d7d7d"/>
<circle cx="165.44" cy="225.32" r="0.55" fill="#7d7d7d"/>
<circle cx="161.36" cy="227.68" r="0.55" fill="#7d7d7d"/>
<path d="M86.20 266.15L86.20 270.85M84.16 267.32L88.24 269.68M88.24 267.32L84.16 269.68" stroke="#7d7d7d" stroke-width="0.9" stroke-linecap="round" fill="none"/>
<circle cx="86.20" cy="266.15" r="0.55" fill="#7d7d7d"/>
<circle cx="86.20" cy="270.85" r="0.55" fill="#7d7d7d"/>
<circle cx="84.16" cy="267.32" r="0.55" fill="#7d7d7d"/>
<circle cx="88.24" cy="269.68" r="0.55" fill="#7d7d7d"/>
<circle cx="88.24" cy="267.32" r="0.55" fill="#7d7d7d"/>
<circle cx="84.16" cy="269.68" r="0.55" fill="#7d7d7d"/>
<path d="M92.80 266.15L92.80 270.85M90.76 267.32L94.84 269.68M94.84 267.32L90.76 269.68" stroke="#7d7d7d" stroke-width="0.9" stroke-linecap="round" fill="none"/>
<circle cx="92.80" cy="266.15" r="0.55" fill="#7d7d7d"/>
<circle cx="92.80" cy="270.85" r="0.55" fill="#7d7d7d"/>
<circle cx="90.76" cy="267.32" r="0.55" fill="#7d7d7d"/>
<circle cx="94.84" cy="269.68" r="0.55" fill="#7d7d7d"/>
<circle cx="94.84" cy="267.32" r="0.55" fill="#7d7d7d"/>
<circle cx="90.76" cy="269.68" r="0.55" fill="#7d7d7d"/>
<path d="M56.50 311.65L56.50 316.35M54.46 312.82L58.54 315.18M58.54 312.82L54.46 315.18" stroke="#7d7d7d" stroke-width="0.9" stroke-linecap="round" fill="none"/>
<circle cx="56.50" cy="311.65" r="0.55" fill="#7d7d7d"/>
<circle cx="56.50" cy="316.35" r="0.55" fill="#7d7d7d"/>
<circle cx="54.46" cy="312.82" r="0.55" fill="#7d7d7d"/>
<circle cx="58.54" cy="315.18" r="0.55" fill="#7d7d7d"/>
<circle cx="58.54" cy="312.82" r="0.55" fill="#7d7d7d"/>
<circle cx="54.46" cy="315.18" r="0.55" fill="#7d7d7d"/>
<path d="M63.10 311.65L63.10 316.35M61.06 312.82L65.14 315.18M65.14 312.82L61.06 315.18" stroke="#7d7d7d" stroke-width="0.9" stroke-linecap="round" fill="none"/>
<circle cx="63.10" cy="311.65" r="0.55" fill="#7d7d7d"/>
<circle cx="63.10" cy="316.35" r="0.55" fill="#7d7d7d"/>
<circle cx="61.06" cy="312.82" r="0.55" fill="#7d7d7d"/>
<circle cx="65.14" cy="315.18" r="0.55" fill="#7d7d7d"/>
<circle cx="65.14" cy="312.82" r="0.55" fill="#7d7d7d"/>
<circle cx="61.06" cy="315.18" r="0.55" fill="#7d7d7d"/>
<path d="M63.30 329.25L63.30 333.95M61.26 330.43L65.34 332.78M65.34 330.43L61.26 332.78" stroke="#7d7d7d" stroke-width="0.9" stroke-linecap="round" fill="none"/>
<circle cx="63.30" cy="329.25" r="0.55" fill="#7d7d7d"/>
<circle cx="63.30" cy="333.95" r="0.55" fill="#7d7d7d"/>
<circle cx="61.26" cy="330.43" r="0.55" fill="#7d7d7d"/>
<circle cx="65.34" cy="332.78" r="0.55" fill="#7d7d7d"/>
<circle cx="65.34" cy="330.43" r="0.55" fill="#7d7d7d"/>
<circle cx="61.26" cy="332.78" r="0.55" fill="#7d7d7d"/>
<path d="M69.90 329.25L69.90 333.95M67.86 330.43L71.94 332.78M71.94 330.43L67.86 332.78" stroke="#7d7d7d" stroke-width="0.9" stroke-linecap="round" fill="none"/>
<circle cx="69.90" cy="329.25" r="0.55" fill="#7d7d7d"/>
<circle cx="69.90" cy="333.95" r="0.55" fill="#7d7d7d"/>
<circle cx="67.86" cy="330.43" r="0.55" fill="#7d7d7d"/>
<circle cx="71.94" cy="332.78" r="0.55" fill="#7d7d7d"/>
<circle cx="71.94" cy="330.43" r="0.55" fill="#7d7d7d"/>
<circle cx="67.86" cy="332.78" r="0.55" fill="#7d7d7d"/>
<path d="M61.20 336.05L61.20 340.75M59.16 337.22L63.24 339.57M63.24 337.22L59.16 339.57" stroke="#7d7d7d" stroke-width="0.9" stroke-linecap="round" fill="none"/>
<circle cx="61.20" cy="336.05" r="0.55" fill="#7d7d7d"/>
<circle cx="61.20" cy="340.75" r="0.55" fill="#7d7d7d"/>
<circle cx="59.16" cy="337.22" r="0.55" fill="#7d7d7d"/>
<circle cx="63.24" cy="339.57" r="0.55" fill="#7d7d7d"/>
<circle cx="63.24" cy="337.22" r="0.55" fill="#7d7d7d"/>
<circle cx="59.16" cy="339.57" r="0.55" fill="#7d7d7d"/>
<rect x="214.20" y="220.50" width="127.70" height="127.80" fill="none" stroke="#1a1a1a" stroke-width="1.3"/>
<line x1="209.20" y1="348.30" x2="214.20" y2="348.30" stroke="#1a1a1a" stroke-width="1.3"/>
<text x="204.20" y="352.20" font-size="11.5" text-anchor="end" >0</text>
<line x1="209.20" y1="297.15" x2="214.20" y2="297.15" stroke="#1a1a1a" stroke-width="1.3"/>
<text x="185.01" y="301.00" font-size="11.5" > 00</text>
<path transform="translate(185.013,301.000) scale(0.005615,-0.005615)" d="M763 0L583 0L583 1098Q518 1039 412 980Q306 920 222 890L222 1057Q373 1125 486 1221Q599 1318 646 1409L763 1409Z" fill="#111"/>
<line x1="209.20" y1="246.00" x2="214.20" y2="246.00" stroke="#1a1a1a" stroke-width="1.3"/>
<text x="204.20" y="249.90" font-size="11.5" text-anchor="end" >200</text>
<line x1="214.20" y1="348.30" x2="214.20" y2="353.30" stroke="#1a1a1a" stroke-width="1.3"/>
<text x="214.20" y="365.60" font-size="11.5" text-anchor="middle" >0</text>
<line x1="256.77" y1="348.30" x2="256.77" y2="353.30" stroke="#1a1a1a" stroke-width="1.3"/>
<text x="250.37" y="366.00" font-size="11.5" > 0</text>
<path transform="translate(250.371,366.000) scale(0.005615,-0.005615)" d="M763 0L583 0L583 1098Q518 1039 412 980Q306 920 222 890L222 1057Q373 1125 486 1221Q599 1318 646 1409L763 1409Z" fill="#111"/>
<line x1="299.33" y1="348.30" x2="299.33" y2="353.30" stroke="#1a1a1a" stroke-width="1.3"/>
<text x="299.33" y="365.60" font-size="11.5" text-anchor="middle" >20</text>
<line x1="341.90" y1="348.30" x2="341.90" y2="353.30" stroke="#1a1a1a" stroke-width="1.3"/>
<text x="341.90" y="365.60" font-size="11.5" text-anchor="middle" >30</text>
<text transform="translate(278.05,211.00) scale(1.078,1)" font-size="15.3" text-anchor="middle">CrO</text>
<text x="251.90" y="385.00" font-size="13" >(x 0</text>
<path transform="translate(262.729,385.000) scale(0.006348,-0.006348)" d="M763 0L583 0L583 1098Q518 1039 412 980Q306 920 222 890L222 1057Q373 1125 486 1221Q599 1318 646 1409L763 1409Z" fill="#111"/>
<text x="276.8" y="378.2" font-size="8.6">-4</text>
<text x="287.4" y="385.0" font-size="13">%)</text>
<line x1="341.90" y1="234.70" x2="341.90" y2="252.30" stroke="#1a1a1a" stroke-width="1.3"/>
<line x1="335.60" y1="234.70" x2="348.20" y2="234.70" stroke="#1a1a1a" stroke-width="1.3"/>
<line x1="335.60" y1="252.30" x2="348.20" y2="252.30" stroke="#1a1a1a" stroke-width="1.3"/>
<line x1="256.70" y1="229.20" x2="256.70" y2="241.90" stroke="#1a1a1a" stroke-width="1.3"/>
<line x1="250.40" y1="229.20" x2="263.00" y2="229.20" stroke="#1a1a1a" stroke-width="1.3"/>
<line x1="250.40" y1="241.90" x2="263.00" y2="241.90" stroke="#1a1a1a" stroke-width="1.3"/>
<line x1="228.80" y1="230.70" x2="228.80" y2="288.00" stroke="#1a1a1a" stroke-width="1.3"/>
<line x1="222.50" y1="230.70" x2="235.10" y2="230.70" stroke="#1a1a1a" stroke-width="1.3"/>
<line x1="222.50" y1="288.00" x2="235.10" y2="288.00" stroke="#1a1a1a" stroke-width="1.3"/>
<line x1="218.80" y1="290.80" x2="218.80" y2="293.80" stroke="#1a1a1a" stroke-width="1.3"/>
<line x1="212.50" y1="290.80" x2="225.10" y2="290.80" stroke="#1a1a1a" stroke-width="1.3"/>
<line x1="212.50" y1="293.80" x2="225.10" y2="293.80" stroke="#1a1a1a" stroke-width="1.3"/>
<line x1="209.10" y1="336.30" x2="221.70" y2="336.30" stroke="#1a1a1a" stroke-width="1.3"/>
<line x1="209.50" y1="340.10" x2="222.10" y2="340.10" stroke="#1a1a1a" stroke-width="1.3"/>
<line x1="207.60" y1="342.70" x2="220.20" y2="342.70" stroke="#1a1a1a" stroke-width="1.3"/>
<line x1="209.00" y1="297.10" x2="221.60" y2="297.10" stroke="#1a1a1a" stroke-width="1.3"/>
<polyline points="341.90,243.40 256.70,235.70 228.80,259.40 218.80,293.30 216.20,337.00 215.20,340.00 214.20,343.00" fill="none" stroke="#1a1a1a" stroke-width="1.3"/>
<circle cx="340.90" cy="242.40" r="4.5" fill="#111"/>
<circle cx="255.70" cy="234.70" r="4.5" fill="#111"/>
<circle cx="227.80" cy="258.40" r="4.5" fill="#111"/>
<circle cx="217.80" cy="292.30" r="4.5" fill="#111"/>
<circle cx="215.20" cy="336.00" r="4.5" fill="#111"/>
<circle cx="214.20" cy="339.00" r="4.5" fill="#111"/>
<circle cx="213.20" cy="342.00" r="4.5" fill="#111"/>
<path d="M324.90 229.35L324.90 234.05M322.86 230.52L326.94 232.88M326.94 230.52L322.86 232.88" stroke="#7d7d7d" stroke-width="0.9" stroke-linecap="round" fill="none"/>
<circle cx="324.90" cy="229.35" r="0.55" fill="#7d7d7d"/>
<circle cx="324.90" cy="234.05" r="0.55" fill="#7d7d7d"/>
<circle cx="322.86" cy="230.52" r="0.55" fill="#7d7d7d"/>
<circle cx="326.94" cy="232.88" r="0.55" fill="#7d7d7d"/>
<circle cx="326.94" cy="230.52" r="0.55" fill="#7d7d7d"/>
<circle cx="322.86" cy="232.88" r="0.55" fill="#7d7d7d"/>
<path d="M331.50 229.35L331.50 234.05M329.46 230.52L333.54 232.88M333.54 230.52L329.46 232.88" stroke="#7d7d7d" stroke-width="0.9" stroke-linecap="round" fill="none"/>
<circle cx="331.50" cy="229.35" r="0.55" fill="#7d7d7d"/>
<circle cx="331.50" cy="234.05" r="0.55" fill="#7d7d7d"/>
<circle cx="329.46" cy="230.52" r="0.55" fill="#7d7d7d"/>
<circle cx="333.54" cy="232.88" r="0.55" fill="#7d7d7d"/>
<circle cx="333.54" cy="230.52" r="0.55" fill="#7d7d7d"/>
<circle cx="329.46" cy="232.88" r="0.55" fill="#7d7d7d"/>
<path d="M267.20 223.15L267.20 227.85M265.16 224.32L269.24 226.68M269.24 224.32L265.16 226.68" stroke="#7d7d7d" stroke-width="0.9" stroke-linecap="round" fill="none"/>
<circle cx="267.20" cy="223.15" r="0.55" fill="#7d7d7d"/>
<circle cx="267.20" cy="227.85" r="0.55" fill="#7d7d7d"/>
<circle cx="265.16" cy="224.32" r="0.55" fill="#7d7d7d"/>
<circle cx="269.24" cy="226.68" r="0.55" fill="#7d7d7d"/>
<circle cx="269.24" cy="224.32" r="0.55" fill="#7d7d7d"/>
<circle cx="265.16" cy="226.68" r="0.55" fill="#7d7d7d"/>
<path d="M273.80 223.15L273.80 227.85M271.76 224.32L275.84 226.68M275.84 224.32L271.76 226.68" stroke="#7d7d7d" stroke-width="0.9" stroke-linecap="round" fill="none"/>
<circle cx="273.80" cy="223.15" r="0.55" fill="#7d7d7d"/>
<circle cx="273.80" cy="227.85" r="0.55" fill="#7d7d7d"/>
<circle cx="271.76" cy="224.32" r="0.55" fill="#7d7d7d"/>
<circle cx="275.84" cy="226.68" r="0.55" fill="#7d7d7d"/>
<circle cx="275.84" cy="224.32" r="0.55" fill="#7d7d7d"/>
<circle cx="271.76" cy="226.68" r="0.55" fill="#7d7d7d"/>
<path d="M237.70 224.05L237.70 228.75M235.66 225.22L239.74 227.58M239.74 225.22L235.66 227.58" stroke="#7d7d7d" stroke-width="0.9" stroke-linecap="round" fill="none"/>
<circle cx="237.70" cy="224.05" r="0.55" fill="#7d7d7d"/>
<circle cx="237.70" cy="228.75" r="0.55" fill="#7d7d7d"/>
<circle cx="235.66" cy="225.22" r="0.55" fill="#7d7d7d"/>
<circle cx="239.74" cy="227.58" r="0.55" fill="#7d7d7d"/>
<circle cx="239.74" cy="225.22" r="0.55" fill="#7d7d7d"/>
<circle cx="235.66" cy="227.58" r="0.55" fill="#7d7d7d"/>
<path d="M244.30 224.05L244.30 228.75M242.26 225.22L246.34 227.58M246.34 225.22L242.26 227.58" stroke="#7d7d7d" stroke-width="0.9" stroke-linecap="round" fill="none"/>
<circle cx="244.30" cy="224.05" r="0.55" fill="#7d7d7d"/>
<circle cx="244.30" cy="228.75" r="0.55" fill="#7d7d7d"/>
<circle cx="242.26" cy="225.22" r="0.55" fill="#7d7d7d"/>
<circle cx="246.34" cy="227.58" r="0.55" fill="#7d7d7d"/>
<circle cx="246.34" cy="225.22" r="0.55" fill="#7d7d7d"/>
<circle cx="242.26" cy="227.58" r="0.55" fill="#7d7d7d"/>
<path d="M226.00 299.25L226.00 303.95M223.96 300.43L228.04 302.78M228.04 300.43L223.96 302.78" stroke="#7d7d7d" stroke-width="0.9" stroke-linecap="round" fill="none"/>
<circle cx="226.00" cy="299.25" r="0.55" fill="#7d7d7d"/>
<circle cx="226.00" cy="303.95" r="0.55" fill="#7d7d7d"/>
<circle cx="223.96" cy="300.43" r="0.55" fill="#7d7d7d"/>
<circle cx="228.04" cy="302.78" r="0.55" fill="#7d7d7d"/>
<circle cx="228.04" cy="300.43" r="0.55" fill="#7d7d7d"/>
<circle cx="223.96" cy="302.78" r="0.55" fill="#7d7d7d"/>
<path d="M232.60 299.25L232.60 303.95M230.56 300.43L234.64 302.78M234.64 300.43L230.56 302.78" stroke="#7d7d7d" stroke-width="0.9" stroke-linecap="round" fill="none"/>
<circle cx="232.60" cy="299.25" r="0.55" fill="#7d7d7d"/>
<circle cx="232.60" cy="303.95" r="0.55" fill="#7d7d7d"/>
<circle cx="230.56" cy="300.43" r="0.55" fill="#7d7d7d"/>
<circle cx="234.64" cy="302.78" r="0.55" fill="#7d7d7d"/>
<circle cx="234.64" cy="300.43" r="0.55" fill="#7d7d7d"/>
<circle cx="230.56" cy="302.78" r="0.55" fill="#7d7d7d"/>
<path d="M224.70 329.85L224.70 334.55M222.66 331.02L226.74 333.38M226.74 331.02L222.66 333.38" stroke="#7d7d7d" stroke-width="0.9" stroke-linecap="round" fill="none"/>
<circle cx="224.70" cy="329.85" r="0.55" fill="#7d7d7d"/>
<circle cx="224.70" cy="334.55" r="0.55" fill="#7d7d7d"/>
<circle cx="222.66" cy="331.02" r="0.55" fill="#7d7d7d"/>
<circle cx="226.74" cy="333.38" r="0.55" fill="#7d7d7d"/>
<circle cx="226.74" cy="331.02" r="0.55" fill="#7d7d7d"/>
<circle cx="222.66" cy="333.38" r="0.55" fill="#7d7d7d"/>
<rect x="382.60" y="220.70" width="128.20" height="127.90" fill="none" stroke="#1a1a1a" stroke-width="1.3"/>
<line x1="377.60" y1="348.60" x2="382.60" y2="348.60" stroke="#1a1a1a" stroke-width="1.3"/>
<text x="372.60" y="352.50" font-size="11.5" text-anchor="end" >0</text>
<line x1="377.60" y1="320.73" x2="382.60" y2="320.73" stroke="#1a1a1a" stroke-width="1.3"/>
<text x="372.60" y="324.62" font-size="11.5" text-anchor="end" >50</text>
<line x1="377.60" y1="292.85" x2="382.60" y2="292.85" stroke="#1a1a1a" stroke-width="1.3"/>
<text x="353.41" y="297.00" font-size="11.5" > 00</text>
<path transform="translate(353.413,297.000) scale(0.005615,-0.005615)" d="M763 0L583 0L583 1098Q518 1039 412 980Q306 920 222 890L222 1057Q373 1125 486 1221Q599 1318 646 1409L763 1409Z" fill="#111"/>
<line x1="377.60" y1="264.98" x2="382.60" y2="264.98" stroke="#1a1a1a" stroke-width="1.3"/>
<text x="353.41" y="269.00" font-size="11.5" > 50</text>
<path transform="translate(353.413,269.000) scale(0.005615,-0.005615)" d="M763 0L583 0L583 1098Q518 1039 412 980Q306 920 222 890L222 1057Q373 1125 486 1221Q599 1318 646 1409L763 1409Z" fill="#111"/>
<line x1="377.60" y1="237.10" x2="382.60" y2="237.10" stroke="#1a1a1a" stroke-width="1.3"/>
<text x="372.60" y="241.00" font-size="11.5" text-anchor="end" >200</text>
<line x1="382.60" y1="348.60" x2="382.60" y2="353.60" stroke="#1a1a1a" stroke-width="1.3"/>
<text x="382.60" y="365.90" font-size="11.5" text-anchor="middle" >0</text>
<line x1="418.21" y1="348.60" x2="418.21" y2="353.60" stroke="#1a1a1a" stroke-width="1.3"/>
<text x="418.21" y="365.90" font-size="11.5" text-anchor="middle" >50</text>
<line x1="453.82" y1="348.60" x2="453.82" y2="353.60" stroke="#1a1a1a" stroke-width="1.3"/>
<text x="444.23" y="366.00" font-size="11.5" > 00</text>
<path transform="translate(444.229,366.000) scale(0.005615,-0.005615)" d="M763 0L583 0L583 1098Q518 1039 412 980Q306 920 222 890L222 1057Q373 1125 486 1221Q599 1318 646 1409L763 1409Z" fill="#111"/>
<line x1="489.43" y1="348.60" x2="489.43" y2="353.60" stroke="#1a1a1a" stroke-width="1.3"/>
<text x="479.84" y="366.00" font-size="11.5" > 50</text>
<path transform="translate(479.840,366.000) scale(0.005615,-0.005615)" d="M763 0L583 0L583 1098Q518 1039 412 980Q306 920 222 890L222 1057Q373 1125 486 1221Q599 1318 646 1409L763 1409Z" fill="#111"/>
<text transform="translate(446.70,211.00) scale(1.078,1)" font-size="15.3" text-anchor="middle">PMA</text>
<text x="449.4" y="384.8" font-size="13" text-anchor="middle">(ng/mL)</text>
<line x1="510.50" y1="228.40" x2="510.50" y2="244.30" stroke="#1a1a1a" stroke-width="1.3"/>
<line x1="504.20" y1="228.40" x2="516.80" y2="228.40" stroke="#1a1a1a" stroke-width="1.3"/>
<line x1="504.20" y1="244.30" x2="516.80" y2="244.30" stroke="#1a1a1a" stroke-width="1.3"/>
<line x1="425.60" y1="263.20" x2="425.60" y2="266.60" stroke="#1a1a1a" stroke-width="1.3"/>
<line x1="419.30" y1="263.20" x2="431.90" y2="263.20" stroke="#1a1a1a" stroke-width="1.3"/>
<line x1="419.30" y1="266.60" x2="431.90" y2="266.60" stroke="#1a1a1a" stroke-width="1.3"/>
<line x1="396.90" y1="308.50" x2="396.90" y2="310.60" stroke="#1a1a1a" stroke-width="1.3"/>
<line x1="390.60" y1="308.50" x2="403.20" y2="308.50" stroke="#1a1a1a" stroke-width="1.3"/>
<line x1="390.60" y1="310.60" x2="403.20" y2="310.60" stroke="#1a1a1a" stroke-width="1.3"/>
<line x1="387.30" y1="330.10" x2="387.30" y2="335.50" stroke="#1a1a1a" stroke-width="1.3"/>
<line x1="381.00" y1="330.10" x2="393.60" y2="330.10" stroke="#1a1a1a" stroke-width="1.3"/>
<line x1="381.00" y1="335.50" x2="393.60" y2="335.50" stroke="#1a1a1a" stroke-width="1.3"/>
<line x1="377.90" y1="342.00" x2="390.50" y2="342.00" stroke="#1a1a1a" stroke-width="1.3"/>
<polyline points="510.50,236.10 425.60,265.90 396.90,310.20 387.30,333.80 383.30,341.30 381.90,343.00" fill="none" stroke="#1a1a1a" stroke-width="1.3"/>
<circle cx="509.50" cy="235.10" r="4.5" fill="#111"/>
<circle cx="424.60" cy="264.90" r="4.5" fill="#111"/>
<circle cx="395.90" cy="309.20" r="4.5" fill="#111"/>
<circle cx="386.30" cy="332.80" r="4.5" fill="#111"/>
<circle cx="382.30" cy="340.30" r="4.5" fill="#111"/>
<circle cx="380.90" cy="342.00" r="4.5" fill="#111"/>
<path d="M493.70 224.35L493.70 229.05M491.66 225.52L495.74 227.88M495.74 225.52L491.66 227.88" stroke="#7d7d7d" stroke-width="0.9" stroke-linecap="round" fill="none"/>
<circle cx="493.70" cy="224.35" r="0.55" fill="#7d7d7d"/>
<circle cx="493.70" cy="229.05" r="0.55" fill="#7d7d7d"/>
<circle cx="491.66" cy="225.52" r="0.55" fill="#7d7d7d"/>
<circle cx="495.74" cy="227.88" r="0.55" fill="#7d7d7d"/>
<circle cx="495.74" cy="225.52" r="0.55" fill="#7d7d7d"/>
<circle cx="491.66" cy="227.88" r="0.55" fill="#7d7d7d"/>
<path d="M500.30 224.35L500.30 229.05M498.26 225.52L502.34 227.88M502.34 225.52L498.26 227.88" stroke="#7d7d7d" stroke-width="0.9" stroke-linecap="round" fill="none"/>
<circle cx="500.30" cy="224.35" r="0.55" fill="#7d7d7d"/>
<circle cx="500.30" cy="229.05" r="0.55" fill="#7d7d7d"/>
<circle cx="498.26" cy="225.52" r="0.55" fill="#7d7d7d"/>
<circle cx="502.34" cy="227.88" r="0.55" fill="#7d7d7d"/>
<circle cx="502.34" cy="225.52" r="0.55" fill="#7d7d7d"/>
<circle cx="498.26" cy="227.88" r="0.55" fill="#7d7d7d"/>
<path d="M421.20 253.35L421.20 258.05M419.16 254.52L423.24 256.88M423.24 254.52L419.16 256.88" stroke="#7d7d7d" stroke-width="0.9" stroke-linecap="round" fill="none"/>
<circle cx="421.20" cy="253.35" r="0.55" fill="#7d7d7d"/>
<circle cx="421.20" cy="258.05" r="0.55" fill="#7d7d7d"/>
<circle cx="419.16" cy="254.52" r="0.55" fill="#7d7d7d"/>
<circle cx="423.24" cy="256.88" r="0.55" fill="#7d7d7d"/>
<circle cx="423.24" cy="254.52" r="0.55" fill="#7d7d7d"/>
<circle cx="419.16" cy="256.88" r="0.55" fill="#7d7d7d"/>
<path d="M427.80 253.35L427.80 258.05M425.76 254.52L429.84 256.88M429.84 254.52L425.76 256.88" stroke="#7d7d7d" stroke-width="0.9" stroke-linecap="round" fill="none"/>
<circle cx="427.80" cy="253.35" r="0.55" fill="#7d7d7d"/>
<circle cx="427.80" cy="258.05" r="0.55" fill="#7d7d7d"/>
<circle cx="425.76" cy="254.52" r="0.55" fill="#7d7d7d"/>
<circle cx="429.84" cy="256.88" r="0.55" fill="#7d7d7d"/>
<circle cx="429.84" cy="254.52" r="0.55" fill="#7d7d7d"/>
<circle cx="425.76" cy="256.88" r="0.55" fill="#7d7d7d"/>
<path d="M390.00 297.25L390.00 301.95M387.96 298.43L392.04 300.78M392.04 298.43L387.96 300.78" stroke="#7d7d7d" stroke-width="0.9" stroke-linecap="round" fill="none"/>
<circle cx="390.00" cy="297.25" r="0.55" fill="#7d7d7d"/>
<circle cx="390.00" cy="301.95" r="0.55" fill="#7d7d7d"/>
<circle cx="387.96" cy="298.43" r="0.55" fill="#7d7d7d"/>
<circle cx="392.04" cy="300.78" r="0.55" fill="#7d7d7d"/>
<circle cx="392.04" cy="298.43" r="0.55" fill="#7d7d7d"/>
<circle cx="387.96" cy="300.78" r="0.55" fill="#7d7d7d"/>
<path d="M396.60 297.25L396.60 301.95M394.56 298.43L398.64 300.78M398.64 298.43L394.56 300.78" stroke="#7d7d7d" stroke-width="0.9" stroke-linecap="round" fill="none"/>
<circle cx="396.60" cy="297.25" r="0.55" fill="#7d7d7d"/>
<circle cx="396.60" cy="301.95" r="0.55" fill="#7d7d7d"/>
<circle cx="394.56" cy="298.43" r="0.55" fill="#7d7d7d"/>
<circle cx="398.64" cy="300.78" r="0.55" fill="#7d7d7d"/>
<circle cx="398.64" cy="298.43" r="0.55" fill="#7d7d7d"/>
<circle cx="394.56" cy="300.78" r="0.55" fill="#7d7d7d"/>
<path d="M395.60 324.85L395.60 329.55M393.56 326.02L397.64 328.38M397.64 326.02L393.56 328.38" stroke="#7d7d7d" stroke-width="0.9" stroke-linecap="round" fill="none"/>
<circle cx="395.60" cy="324.85" r="0.55" fill="#7d7d7d"/>
<circle cx="395.60" cy="329.55" r="0.55" fill="#7d7d7d"/>
<circle cx="393.56" cy="326.02" r="0.55" fill="#7d7d7d"/>
<circle cx="397.64" cy="328.38" r="0.55" fill="#7d7d7d"/>
<circle cx="397.64" cy="326.02" r="0.55" fill="#7d7d7d"/>
<circle cx="393.56" cy="328.38" r="0.55" fill="#7d7d7d"/>
<path d="M402.20 324.85L402.20 329.55M400.16 326.02L404.24 328.38M404.24 326.02L400.16 328.38" stroke="#7d7d7d" stroke-width="0.9" stroke-linecap="round" fill="none"/>
<circle cx="402.20" cy="324.85" r="0.55" fill="#7d7d7d"/>
<circle cx="402.20" cy="329.55" r="0.55" fill="#7d7d7d"/>
<circle cx="400.16" cy="326.02" r="0.55" fill="#7d7d7d"/>
<circle cx="404.24" cy="328.38" r="0.55" fill="#7d7d7d"/>
<circle cx="404.24" cy="326.02" r="0.55" fill="#7d7d7d"/>
<circle cx="400.16" cy="328.38" r="0.55" fill="#7d7d7d"/>
<text transform="translate(11.7,87.6) rotate(-90)" font-size="13" text-anchor="middle">MFI</text>
<text transform="translate(11.5,285.8) rotate(-90)" font-size="13" text-anchor="middle">MFI</text>
</svg>
</body></html>
